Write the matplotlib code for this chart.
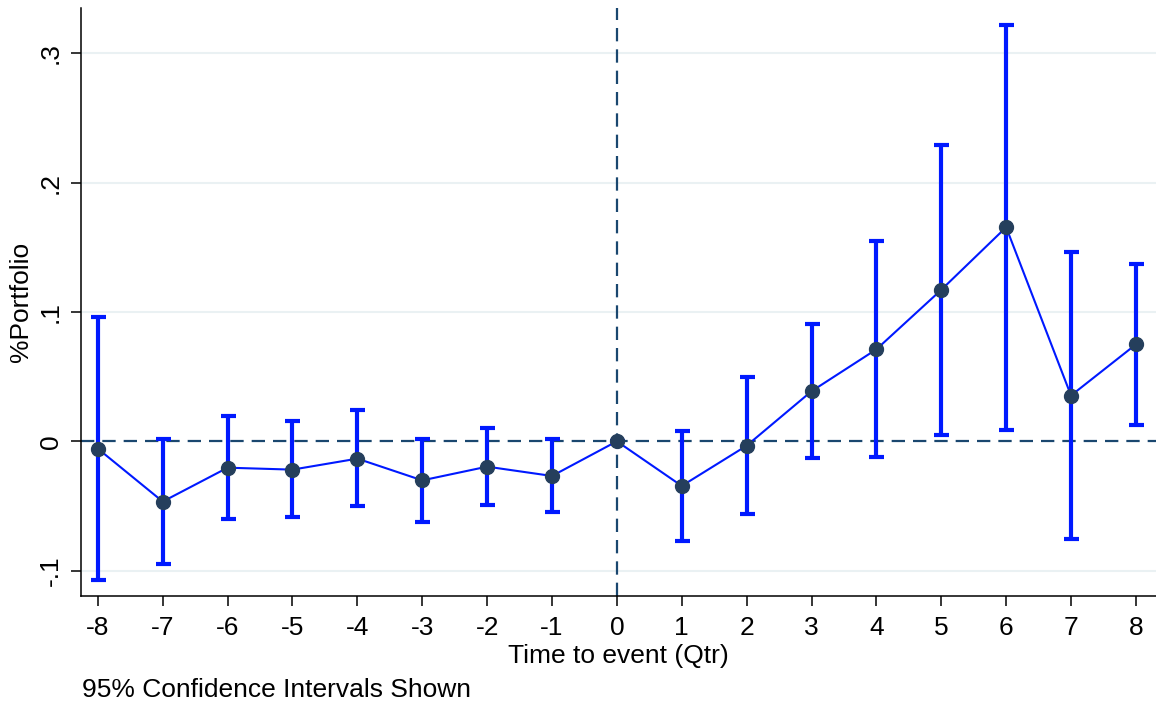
import matplotlib
matplotlib.use("Agg")
import matplotlib.pyplot as plt
import numpy as np

# event-study coefficients with 95% CI
quarters = [-8, -7, -6, -5, -4, -3, -2, -1, 0, 1, 2, 3, 4, 5, 6, 7, 8]
coef = [-0.0057, -0.0466, -0.0204, -0.0219, -0.0134, -0.0302, -0.0196, -0.0268, 0.0,
        -0.0345, -0.0034, 0.0387, 0.0711, 0.1171, 0.1655, 0.0354, 0.0749]
ci_lo = [-0.1072, -0.0946, -0.0598, -0.0588, -0.0503, -0.0626, -0.0492, -0.0549, 0.0,
         -0.0768, -0.0562, -0.0131, -0.0124, 0.0050, 0.0091, -0.0752, 0.0127]
ci_hi = [0.0961, 0.0018, 0.0196, 0.0155, 0.0242, 0.0015, 0.0103, 0.0018, 0.0,
         0.0082, 0.0500, 0.0910, 0.1550, 0.2289, 0.3215, 0.1460, 0.1370]
yticks = [-0.1, 0, 0.1, 0.2, 0.3]
ytick_labels = ["-.1", "0", ".1", ".2", ".3"]

plt.rcParams['font.family'] = ['Liberation Sans', 'DejaVu Sans']

W, H = 1156, 706
fig = plt.figure(figsize=(W / 100, H / 100), dpi=100)
ax = fig.add_axes([81 / W, (H - 596) / H, (W - 81) / W, (596 - 8) / H])

navy = '#1a476f'
blue = '#0019ff'

x = np.array(quarters)
y = np.array(coef)
lo = y - np.array(ci_lo)
hi = np.array(ci_hi) - y

for t in yticks:
    if t != 0:
        ax.axhline(t, color='#eaf1f3', lw=1.5, zorder=0)
ax.axhline(0, color=navy, lw=1.6, dashes=(6, 3.6), zorder=1)
ax.axvline(0, color=navy, lw=1.6, dashes=(6, 3.6), zorder=1)

ax.errorbar(x, y, yerr=[lo, hi], fmt='none', ecolor=blue, elinewidth=3,
            capsize=5.4, capthick=3, zorder=2)
ax.plot(x, y, color=blue, lw=1.5, zorder=3)
ax.plot(x, y, 'o', color='#253f5c', markersize=10, zorder=4)

ax.set_xlim(-8.26, 8.31)
ax.set_ylim(-0.1196, 0.335)
ax.set_xticks(quarters)
ax.set_xticklabels([str(q) for q in quarters])
ax.set_yticks(yticks)
ax.set_yticklabels(ytick_labels, rotation=90, va='center')

for s in ['top', 'right']:
    ax.spines[s].set_visible(False)
for s in ['left', 'bottom']:
    ax.spines[s].set_linewidth(1.1)
ax.tick_params(direction='out', length=7.2, width=1.1, labelsize=19)
ax.tick_params(axis='x', pad=7)
ax.tick_params(axis='y', pad=6)

ax.set_xlabel("Time to event (Qtr)", fontsize=19, labelpad=3)
ax.set_ylabel("%Portfolio", fontsize=19, labelpad=4)
fig.text(82 / W, 1 - 690 / H, "95% Confidence Intervals Shown", fontsize=19,
         ha='left', va='center')

fig.savefig("out.png", dpi=100)
